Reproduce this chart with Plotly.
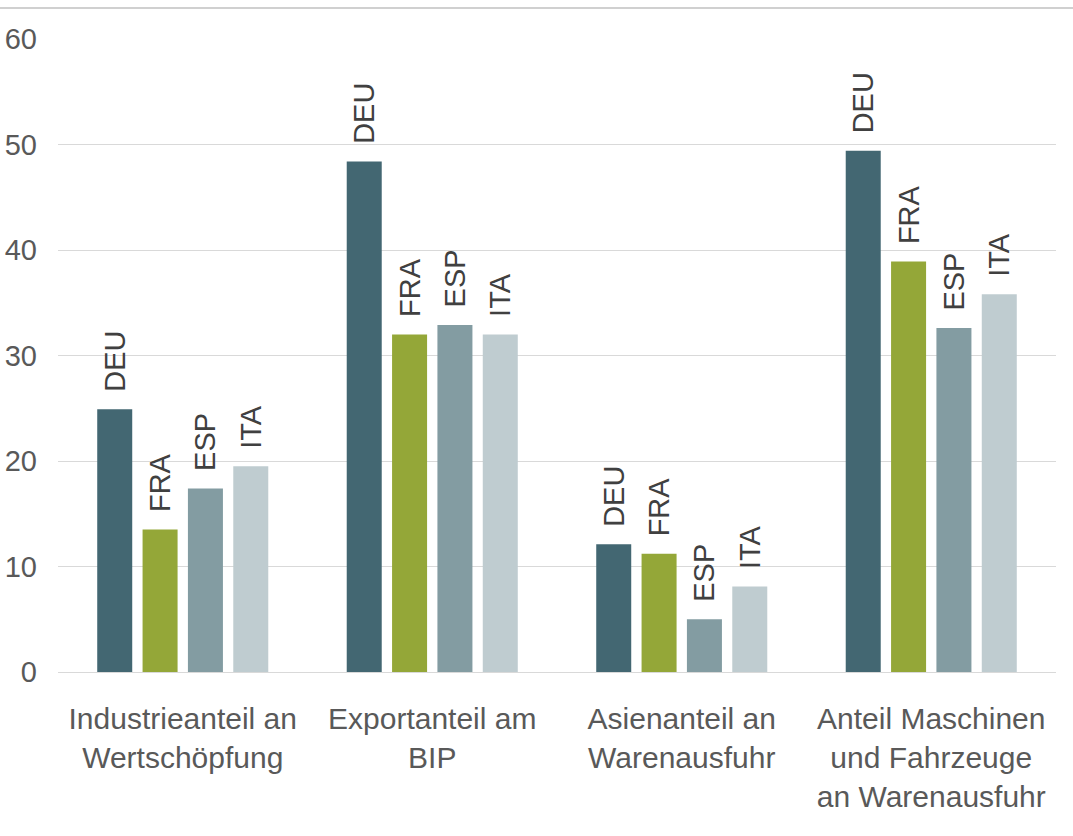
import plotly.graph_objects as go

categories = ["Industrieanteil an<br>Wertschöpfung", "Exportanteil am<br>BIP",
              "Asienanteil an<br>Warenausfuhr", "Anteil Maschinen<br>und Fahrzeuge<br>an Warenausfuhr"]
countries = ["DEU", "FRA", "ESP", "ITA"]
deu = [24.9, 48.4, 12.1, 49.4]
fra = [13.5, 32.0, 11.2, 38.9]
esp = [17.4, 32.9, 5.0, 32.6]
ita = [19.5, 32.0, 8.1, 35.8]
series = [deu, fra, esp, ita]
colors = ["#436772", "#94a738", "#839ca2", "#bfccd0"]
y_ticks = [0, 10, 20, 30, 40, 50, 60]

fig = go.Figure()
for name, vals, col in zip(countries, series, colors):
    fig.add_trace(go.Bar(
        x=categories, y=vals, name=name,
        marker=dict(color=col, line=dict(width=0)),
        text=["\u2002" + name] * len(vals), textposition="outside", textangle=-90,
        constraintext="none", cliponaxis=False,
        textfont=dict(family="Liberation Sans, Arial, sans-serif", size=29, color="#404040"),
    ))

fig.update_layout(
    width=1073, height=836,
    margin=dict(l=58, r=17, t=39, b=164, autoexpand=False),
    paper_bgcolor="white", plot_bgcolor="white",
    barmode="group", bargap=0.273, bargroupgap=0.228,
    showlegend=False,
    font=dict(family="Liberation Sans, Arial, sans-serif", size=30, color="#595959"),
    xaxis=dict(showline=False, showgrid=False, ticks="", ticklabelstandoff=26, automargin=False,
               tickfont=dict(size=30, color="#595959")),
    yaxis=dict(range=[0, 60], tickvals=y_ticks, showgrid=True, gridcolor="#d9d9d9", gridwidth=1,
               zeroline=True, zerolinecolor="#d9d9d9", zerolinewidth=1, showline=False, automargin=False,
               ticks="", ticklabelstandoff=20, tickfont=dict(size=29, color="#595959")),
    shapes=[dict(type="line", xref="paper", yref="paper", x0=-0.1, x1=1.1, y0=1.049, y1=1.049,
                 line=dict(color="#c0c0c0", width=1.5))],
)
fig.write_html("out.html", config={"displayModeBar": False},
               post_script="document.body.style.margin='0px';")
